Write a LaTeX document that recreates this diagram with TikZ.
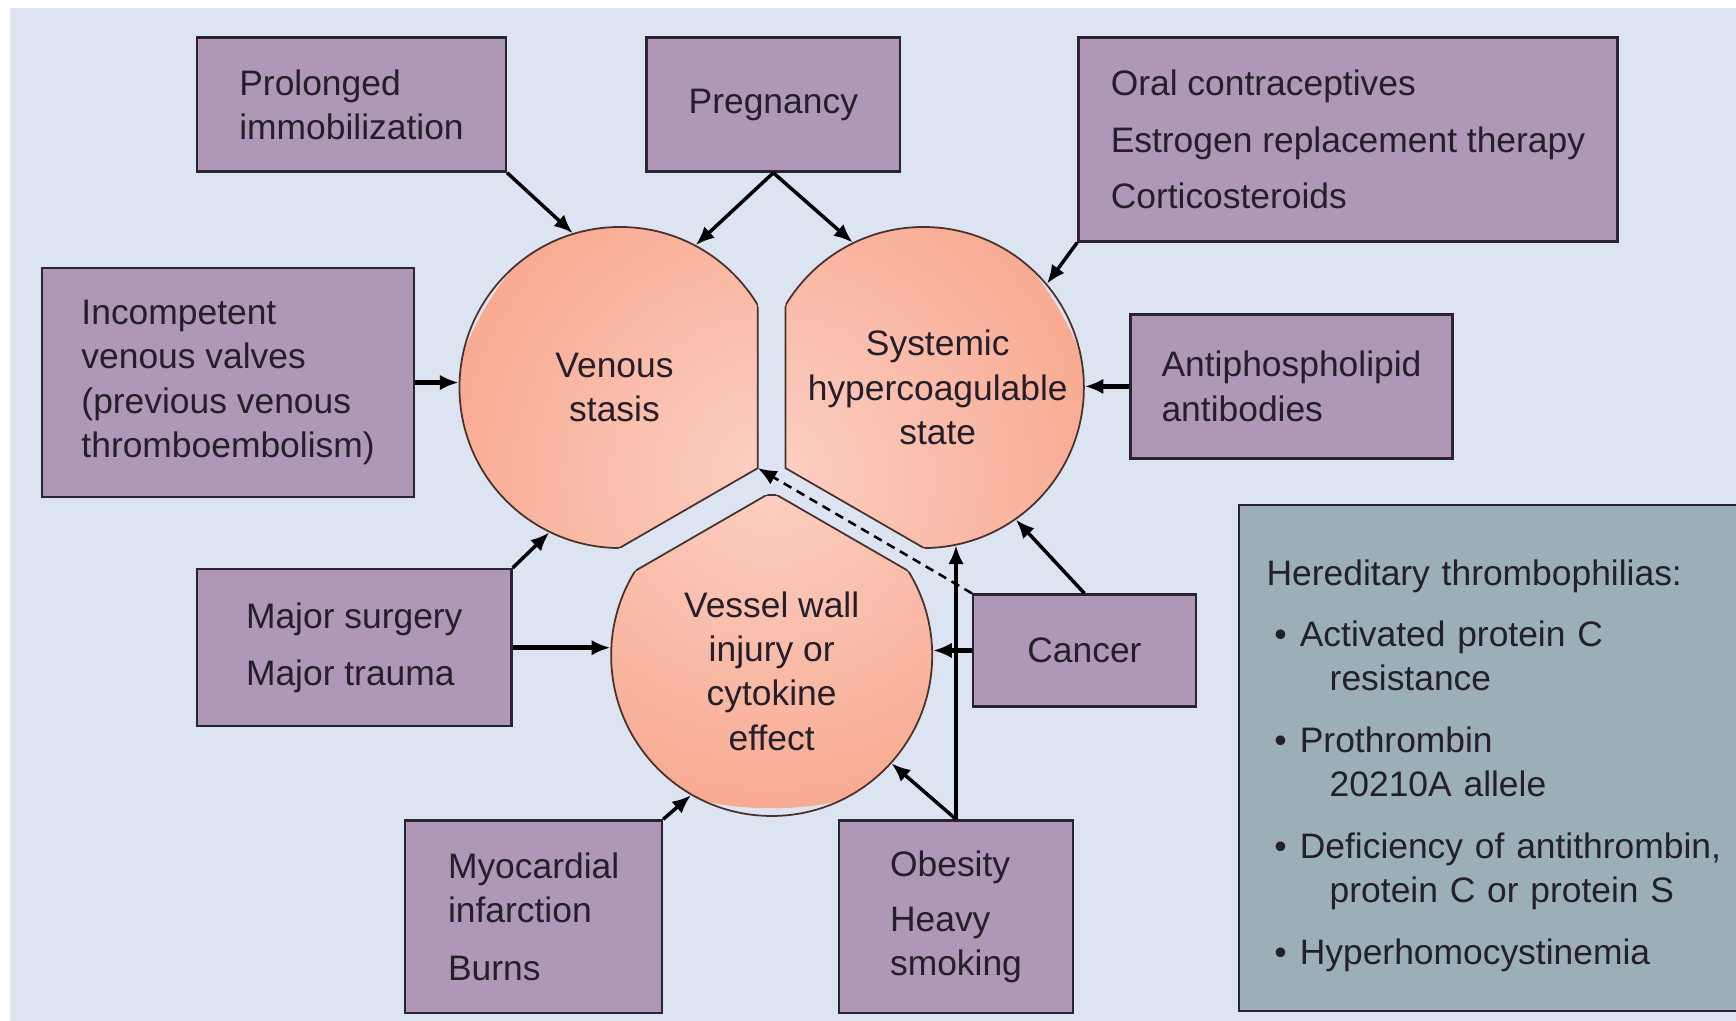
\documentclass[tikz,border=0pt]{standalone}
\usepackage{fontspec}
\setmainfont{Liberation Sans}
\usetikzlibrary{arrows.meta}

\definecolor{pagebg}{HTML}{DDE4F1}
\definecolor{boxfill}{HTML}{AE97B7}
\definecolor{boxline}{HTML}{2B2233}
\definecolor{herfill}{HTML}{9AAFB8}
\definecolor{lobedark}{HTML}{F08460}
\definecolor{lobemid}{HTML}{F7A68C}
\definecolor{lobelight}{HTML}{FCD0C4}
\definecolor{lobeline}{HTML}{4A302C}
\definecolor{inkcol}{HTML}{241F2B}

\pgfdeclareradialshading{lobeshade}{\pgfpoint{0bp}{0bp}}{color(0bp)=(lobelight); color(28bp)=(lobemid); color(50bp)=(lobedark)}

\tikzset{
  factor/.style={draw=boxline, line width=0.6pt, fill=boxfill, align=left, inner sep=0pt, text=inkcol},
  lobe/.style={circle, minimum size=29mm, inner sep=0pt},
  lobetext/.style={align=center, text=inkcol},
  lobeborder/.style={draw=lobeline, line width=0.45pt},
  cause/.style={->, line width=0.9pt},
  mainc/.style={->, line width=1.4pt},
}

% one lobe: centre, corner of the gap, far points of the clip polygon
\newcommand{\drawlobe}[5]{%
  \begin{scope}
    \clip #2 -- #3 -- #4 -- #5 -- cycle;
    \clip #1 circle (14.5mm);
    \shade[shading=lobeshade] (hub) circle (30mm);
  \end{scope}
  \begin{scope}
    \clip #2 -- #3 -- #4 -- #5 -- cycle;
    \draw[lobeborder] #1 circle (14.5mm);
  \end{scope}
  \begin{scope}
    \clip #1 circle (14.5mm);
    \draw[lobeborder] #3 -- #2 -- #5;
  \end{scope}}

\newcommand{\hitem}[2]{\hspace*{0.7mm}\makebox[2.3mm][l]{\textbullet}#1\\\hspace*{5.7mm}#2}

\begin{document}
\begin{tikzpicture}[x=0.1mm, y=-0.1mm, >={Latex[length=1.7mm,width=1.4mm]},
    font=\fontsize{9.1}{11.4}\selectfont]
  \useasboundingbox (0,0) rectangle (1568,922);
  \clip (0,0) rectangle (1568,922);
  \fill[pagebg] (9,7) rectangle (1575,930);

  % the three lobes
  \coordinate (hub) at (697,430);
  \coordinate (vcorner) at (684.5,422.8);
  \drawlobe{(560,350)}{(684.5,422.8)}{(684.5,-577.2)}{(-181.5,-77.2)}{(-181.5,922.8)}
  \drawlobe{(834,350)}{(709.5,422.8)}{(709.5,-577.2)}{(1575.5,-77.2)}{(1575.5,922.8)}
  \drawlobe{(697,592)}{(697,444.4)}{(-169,944.4)}{(697,1444.4)}{(1563,944.4)}

  \node[lobe] (vs) at (560,350) {};
  \node[lobe] (sy) at (834,350) {};
  \node[lobe] (vw) at (697,592) {};
  \node[lobetext] (vstext) at (555,350) {Venous\\stasis};
  \node[lobetext] (sytext) at (847,350) {Systemic\\hypercoagulable\\state};
  \node[lobetext] (vwtext) at (697,606) {Vessel wall\\injury or\\cytokine\\effect};

  % risk factors
  \node[factor, minimum width=27.9mm, minimum height=12.1mm] (pim) at (317.5,94.5) {Prolonged\\immobilization};
  \node[factor, minimum width=22.9mm, minimum height=12.1mm] (preg) at (698.5,94.5) {Pregnancy};
  \node[factor, minimum width=48.7mm, minimum height=18.4mm] (oral) at (1217.5,126) {Oral contraceptives\\[3.1pt]Estrogen replacement therapy\\[3.1pt]Corticosteroids};
  \node[factor, minimum width=33.6mm, minimum height=20.7mm] (inc) at (206,345.5) {Incompetent\\venous valves\\(previous venous\\thromboembolism)};
  \node[factor, minimum width=29.1mm, minimum height=13mm] (anti) at (1166.5,349) {Antiphospholipid\\antibodies};
  \node[factor, minimum width=28.4mm, minimum height=14.2mm] (ms) at (320,585) {Major surgery\\[3.1pt]Major trauma};
  \node[factor, minimum width=20.1mm, minimum height=10.1mm] (can) at (979.5,587.5) {Cancer};
  \node[factor, minimum width=23.2mm, minimum height=17.4mm] (myo) at (482,828) {Myocardial\\infarction\\[3.4pt]Burns};
  \node[factor, minimum width=21.1mm, minimum height=17.4mm] (ob) at (863.5,828) {Obesity\\[2.8pt]Heavy\\smoking};
  \node[factor, fill=herfill, anchor=north west, text width=41.2mm, inner xsep=2.5mm,
        minimum height=45.7mm] (here) at (1118,455)
    {\rule{0pt}{10.7pt}Hereditary thrombophilias:\\[4.2pt]
     \hitem{Activated protein C}{resistance}\\[4.5pt]
     \hitem{Prothrombin}{20210A allele}\\[4.5pt]
     \hitem{Deficiency of antithrombin,}{protein C or protein S}\\[4.5pt]
     \hspace*{0.7mm}\makebox[2.3mm][l]{\textbullet}Hyperhomocystinemia};

  % arrows
  \draw[cause] (pim.south east) -- (vs.107);
  \draw[cause] (preg.south) -- (vs.62);
  \draw[cause] (preg.south) -- (sy.116);
  \draw[cause] (oral.south west) -- (sy.40);
  \draw[mainc] (inc.east) -- (inc.east -| vs.west);
  \draw[mainc] (anti.west) -- (anti.west -| sy.east);
  \draw[cause] (ms.north east) -- (vs.-116);
  \draw[mainc] (ms.east) -- (ms.east -| vw.west);
  \draw[mainc] (can.west) -- (can.west -| vw.east);
  \draw[cause] (can.north) -- (sy.-55);
  \draw[cause, line width=0.65pt, dash pattern=on 0.8mm off 0.55mm] (can.north west) -- (vcorner);
  \draw[cause] (ob.north) -- (ob.north |- sy.-78);
  \draw[cause] (ob.north) -- (vw.-42);
  \draw[cause] (myo.north east) -- (vw.-120);
\end{tikzpicture}
\end{document}
